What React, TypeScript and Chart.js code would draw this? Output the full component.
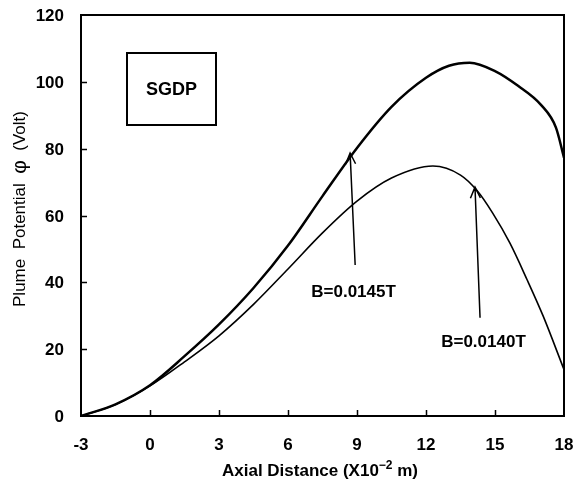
import React, { useEffect, useRef } from "react";
import { Chart, registerables } from "chart.js";

Chart.register(...registerables);

// Axial distance (X10^-2 m) and plume potential (Volt)
const xUpper = [-3, -1.5, 0, 1.5, 3, 4.5, 6, 7.5, 9, 10.5, 12, 13, 13.9, 15, 16, 17, 17.65, 18];
const yUpper = [0, 3.5, 9.2, 17.9, 27.4, 38.3, 51, 65.8, 80.2, 92.5, 101.2, 104.8, 105.7, 103.2, 98.8, 93.1, 86.3, 77.3];

const xLower = [-3, -1.5, 0, 1.5, 3, 4.5, 6, 7.5, 9, 10.5, 12.3, 13.5, 14.2, 14.9, 15.65, 16.4, 17.1, 18];
const yLower = [0, 3.4, 9.0, 16.2, 24.0, 33.4, 44, 54.8, 64.3, 71.2, 74.8, 72.1, 67.6, 60.7, 51.7, 40.7, 29.8, 13.9];

const xTicks = [-3, 0, 3, 6, 9, 12, 15, 18];
const yTicks = [0, 20, 40, 60, 80, 100, 120];

const upperLabel = "B=0.0145T";
const lowerLabel = "B=0.0140T";
const boxLabel = "SGDP";

// annotation anchors in data coordinates
const arrowUpper = { tip: [8.7, 78.7], tail: [8.92, 45.2], label: [8.85, 37] };
const arrowLower = { tip: [14.13, 68.5], tail: [14.35, 29.4], label: [14.5, 22.2] };
const boxRange = { x0: -1.0, x1: 2.87, y0: 87, y1: 108.5 };

const FONT = "'Liberation Sans', Arial, sans-serif";

export default function App() {
  const ref = useRef<HTMLCanvasElement>(null);

  useEffect(() => {
    document.body.style.margin = "0";
    const canvas = ref.current!;
    const annot = {
      id: "annot",
      afterDatasetsDraw(chart: any) {
        const ctx = chart.ctx as CanvasRenderingContext2D;
        const xs = chart.scales.x;
        const ys = chart.scales.y;
        const a = chart.chartArea;
        const px = (v: number) => xs.getPixelForValue(v);
        const py = (v: number) => ys.getPixelForValue(v);
        ctx.save();
        ctx.strokeStyle = "#000";
        ctx.fillStyle = "#000";
        // frame
        ctx.lineWidth = 2;
        ctx.strokeRect(a.left, a.top, a.right - a.left, a.bottom - a.top);
        // inward ticks
        ctx.lineWidth = 1.5;
        ctx.beginPath();
        xTicks.forEach((t) => {
          const x = Math.round(px(t)) + 0.5;
          if (t === xTicks[0] || t === xTicks[xTicks.length - 1]) return;
          ctx.moveTo(x, a.bottom);
          ctx.lineTo(x, a.bottom - 6);
        });
        yTicks.forEach((t) => {
          const y = Math.round(py(t)) + 0.5;
          if (t === yTicks[0] || t === yTicks[yTicks.length - 1]) return;
          ctx.moveTo(a.left, y);
          ctx.lineTo(a.left + 6, y);
        });
        ctx.stroke();
        // tick labels
        ctx.font = `bold 17px ${FONT}`;
        ctx.textBaseline = "alphabetic";
        ctx.textAlign = "center";
        xTicks.forEach((t) => ctx.fillText(String(t), px(t), a.bottom + 34));
        ctx.textAlign = "right";
        yTicks.forEach((t) => ctx.fillText(String(t), a.left - 17, py(t) + 6));
        // SGDP box
        ctx.lineWidth = 2;
        const bx0 = px(boxRange.x0), bx1 = px(boxRange.x1);
        const by0 = py(boxRange.y1), by1 = py(boxRange.y0);
        ctx.strokeRect(Math.round(bx0), Math.round(by0), Math.round(bx1 - bx0), Math.round(by1 - by0));
        ctx.font = `bold 18px ${FONT}`;
        ctx.textAlign = "center";
        ctx.textBaseline = "middle";
        ctx.fillText(boxLabel, (bx0 + bx1) / 2, (by0 + by1) / 2 + 1);
        // arrows
        const drawArrow = (ar: any, text: string) => {
          const tx = px(ar.tip[0]), ty = py(ar.tip[1]);
          const sx = px(ar.tail[0]), sy = py(ar.tail[1]);
          ctx.lineWidth = 1.5;
          ctx.beginPath();
          ctx.moveTo(sx, sy);
          ctx.lineTo(tx, ty);
          const ang = Math.atan2(sy - ty, sx - tx);
          const L = 11, W = 5;
          const bxp = tx + L * Math.cos(ang), byp = ty + L * Math.sin(ang);
          const nx = -Math.sin(ang), ny = Math.cos(ang);
          ctx.moveTo(bxp + W * nx, byp + W * ny);
          ctx.lineTo(tx, ty);
          ctx.lineTo(bxp - W * nx, byp - W * ny);
          ctx.stroke();
          ctx.font = `bold 17px ${FONT}`;
          ctx.textAlign = "center";
          ctx.textBaseline = "middle";
          ctx.fillText(text, px(ar.label[0]), py(ar.label[1]));
        };
        drawArrow(arrowUpper, upperLabel);
        drawArrow(arrowLower, lowerLabel);

        // segmented text helper
        const drawSegs = (segs: { t: string; f: string; dy?: number }[], cx: number, baseline: number) => {
          let total = 0;
          segs.forEach((s) => {
            ctx.font = s.f;
            total += ctx.measureText(s.t).width;
          });
          let x = cx - total / 2;
          ctx.textAlign = "left";
          ctx.textBaseline = "alphabetic";
          segs.forEach((s) => {
            ctx.font = s.f;
            ctx.fillText(s.t, x, baseline + (s.dy || 0));
            x += ctx.measureText(s.t).width;
          });
        };
        // x title
        drawSegs(
          [
            { t: "Axial Distance (X10", f: `bold 17px ${FONT}` },
            { t: "\u22122", f: `bold 12px ${FONT}`, dy: -7 },
            { t: " m)", f: `bold 17px ${FONT}` },
          ],
          320,
          476
        );
        // y title
        ctx.save();
        ctx.translate(25, 209);
        ctx.rotate(-Math.PI / 2);
        drawSegs(
          [
            { t: "Plume  Potential  ", f: `17px ${FONT}` },
            { t: "\u03C6", f: `21px ${FONT}`, dy: 1 },
            { t: "  (Volt)", f: `17px ${FONT}` },
          ],
          0,
          0
        );
        ctx.restore();
        ctx.restore();
      },
    };

    const chart = new Chart(canvas, {
      type: "line",
      data: {
        datasets: [
          {
            label: upperLabel,
            data: xUpper.map((x, i) => ({ x, y: yUpper[i] })),
            borderColor: "#000",
            borderWidth: 2.5,
            pointRadius: 0,
            cubicInterpolationMode: "monotone",
            fill: false,
          },
          {
            label: lowerLabel,
            data: xLower.map((x, i) => ({ x, y: yLower[i] })),
            borderColor: "#000",
            borderWidth: 1.6,
            pointRadius: 0,
            cubicInterpolationMode: "monotone",
            fill: false,
          },
        ],
      },
      options: {
        animation: false,
        responsive: false,
        layout: { padding: { top: 15, right: 10, left: 0, bottom: 0 } },
        plugins: { legend: { display: false }, tooltip: { enabled: false } },
        scales: {
          x: {
            type: "linear",
            min: -3,
            max: 18,
            afterFit: (s: any) => {
              s.height = 70;
            },
            grid: { display: false },
            border: { display: false },
            ticks: { display: false },
          },
          y: {
            type: "linear",
            min: 0,
            max: 120,
            afterFit: (s: any) => {
              s.width = 81;
            },
            grid: { display: false },
            border: { display: false },
            ticks: { display: false },
          },
        },
      },
      plugins: [annot],
    } as any);
    return () => chart.destroy();
  }, []);

  return (
    <div style={{ position: "absolute", left: 0, top: 0, width: 574, height: 486, background: "#fff" }}>
      <canvas ref={ref} width={574} height={486} />
    </div>
  );
}
